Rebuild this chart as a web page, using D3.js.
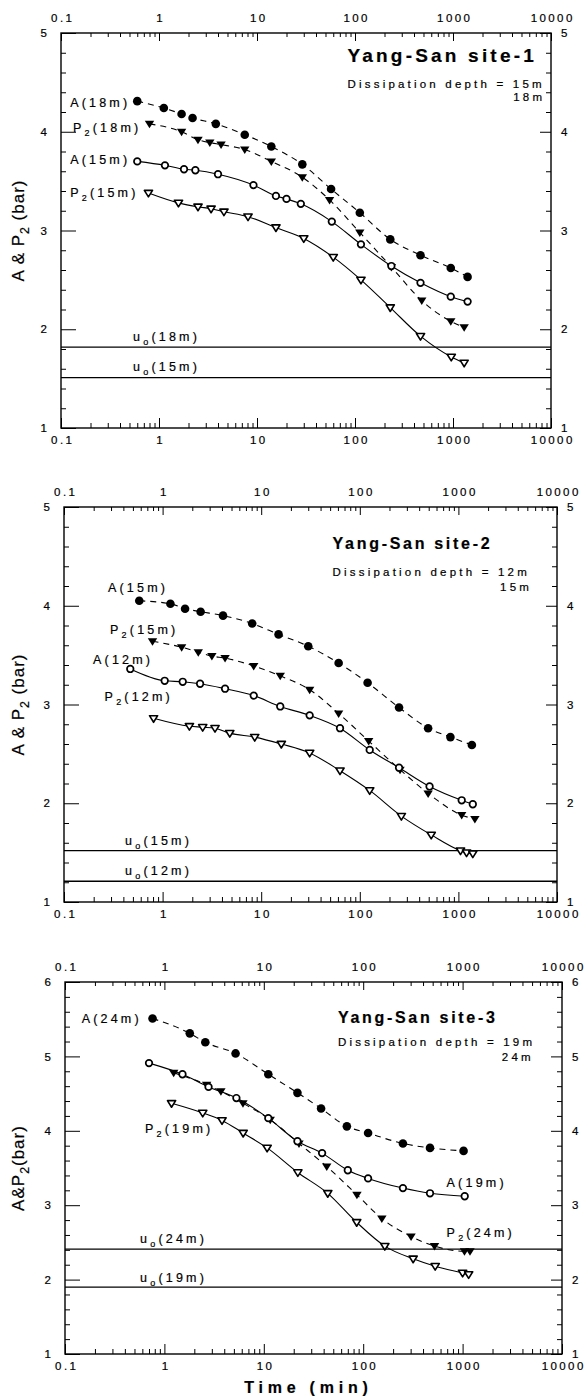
<!DOCTYPE html>
<html>
<head>
<meta charset="utf-8">
<script src="https://cdn.jsdelivr.net/npm/d3@7"></script>
<style>
  body { margin: 0; background: #fff; }
  svg { display: block; }
  text { font-family: "Liberation Sans", Arial, Helvetica, sans-serif; fill: #000; stroke: #000; stroke-width: 0.2px; }
</style>
</head>
<body>
<svg id="chart" width="586" height="1397"></svg>
<script>
// ---------- data (time in min, pressure in bar) ----------
const decadeTicks = [0.1, 1, 10, 100, 1000, 10000];

// Yang-San site-1
const s1A18Time = [0.6, 1.12, 1.7, 2.2, 3.8, 7.5, 14, 29, 57, 112, 229, 466, 949, 1409];
const s1A18Val  = [4.31, 4.24, 4.18, 4.14, 4.08, 3.97, 3.85, 3.67, 3.42, 3.18, 2.91, 2.75, 2.62, 2.53];
const s1P18Time = [0.8, 1.7, 2.5, 3.3, 4.3, 7.5, 14, 29, 55, 112, 235, 480, 949, 1300];
const s1P18Val  = [4.08, 4.00, 3.92, 3.89, 3.87, 3.82, 3.70, 3.54, 3.31, 2.98, 2.63, 2.29, 2.08, 2.02];
const s1A15Time = [0.6, 1.15, 1.8, 2.35, 4, 9.2, 15.6, 20, 28, 58, 115, 235, 466, 949, 1409];
const s1A15Val  = [3.70, 3.66, 3.62, 3.61, 3.57, 3.46, 3.35, 3.32, 3.27, 3.09, 2.86, 2.64, 2.47, 2.33, 2.28];
const s1P15Time = [0.78, 1.58, 2.5, 3.4, 4.6, 8.1, 15.6, 30, 60, 115, 229, 466, 960, 1300];
const s1P15Val  = [3.38, 3.28, 3.24, 3.22, 3.19, 3.14, 3.03, 2.92, 2.73, 2.50, 2.22, 1.93, 1.72, 1.66];
const s1Uo      = [1.82, 1.51];           // u0(18m), u0(15m)

// Yang-San site-2
const s2A15Time = [0.58, 1.2, 1.69, 2.43, 4.1, 8.1, 15, 30, 61, 120, 250, 493, 830, 1370];
const s2A15Val  = [4.05, 4.02, 3.97, 3.94, 3.90, 3.82, 3.71, 3.59, 3.42, 3.22, 2.97, 2.76, 2.67, 2.59];
const s2P15Time = [0.79, 1.56, 2.3, 3.16, 4.3, 8.4, 15.6, 31, 61, 123, 256, 493, 1080, 1470];
const s2P15Val  = [3.64, 3.58, 3.53, 3.49, 3.47, 3.39, 3.29, 3.15, 2.91, 2.63, 2.34, 2.10, 1.88, 1.84];
const s2A12Time = [0.47, 1.05, 1.6, 2.4, 4.3, 8.4, 15.6, 31, 63, 126, 250, 510, 1080, 1400];
const s2A12Val  = [3.36, 3.24, 3.23, 3.21, 3.16, 3.09, 2.98, 2.89, 2.76, 2.54, 2.36, 2.17, 2.03, 1.99];
const s2P12Time = [0.81, 1.87, 2.55, 3.4, 4.8, 8.6, 16, 31, 63, 126, 264, 530, 1050, 1210, 1400];
const s2P12Val  = [2.86, 2.78, 2.77, 2.76, 2.71, 2.67, 2.60, 2.51, 2.33, 2.13, 1.87, 1.68, 1.52, 1.50, 1.49];
const s2Uo      = [1.52, 1.21];           // u0(15m), u0(12m)

// Yang-San site-3
const s3A24Time = [0.76, 1.8, 2.58, 5.2, 11.1, 21.8, 37.7, 68.5, 112, 251, 470, 1023];
const s3A24Val  = [5.51, 5.31, 5.19, 5.04, 4.76, 4.51, 4.30, 4.06, 3.97, 3.83, 3.77, 3.73];
const s3A19Time = [0.70, 1.52, 2.78, 5.3, 11.1, 21.8, 38.6, 70, 112, 251, 470, 1050];
const s3A19Val  = [4.91, 4.76, 4.59, 4.44, 4.17, 3.86, 3.70, 3.47, 3.36, 3.23, 3.16, 3.12];
const s3P24Time = [1.24, 2.66, 3.7, 6.17, 11.6, 22.6, 43, 86.5, 154, 303, 522, 1045, 1187];
const s3P24Val  = [4.78, 4.62, 4.53, 4.37, 4.15, 3.83, 3.52, 3.14, 2.82, 2.58, 2.45, 2.38, 2.38];
const s3P19Time = [1.18, 2.43, 3.8, 6.2, 10.8, 22, 44, 86, 165, 318, 530, 1000, 1150];
const s3P19Val  = [4.37, 4.24, 4.14, 3.97, 3.77, 3.44, 3.16, 2.77, 2.45, 2.28, 2.18, 2.09, 2.07];
const s3Uo      = [2.41, 1.90];           // u0(24m), u0(19m)

// ---------- panels ----------
const panels = [
  {
    box: { L: 61, R: 551, T: 33, B: 428 }, yMax: 5, titleSize: 19,
    series: [
      { t: s1A18Time, v: s1A18Val, filled: true,  shape: 'circle' },
      { t: s1P18Time, v: s1P18Val, filled: true,  shape: 'tri' },
      { t: s1A15Time, v: s1A15Val, filled: false, shape: 'circle' },
      { t: s1P15Time, v: s1P15Val, filled: false, shape: 'tri' }
    ],
    uo: s1Uo,
    ylabel: 'A & P_2 (bar)',
    // annotation anchors in data units [time, bar]
    notes: [
      { s: 'Yang-San site-1', at: [83.8, 4.706], k: 'title' },
      { s: 'Dissipation depth = 15m', at: [83.8, 4.438], k: 'small' },
      { s: '18m', at: [8090, 4.311], k: 'small', anchor: 'end' },
      { s: 'A(18m)', at: [0.124, 4.246], k: 'lab' },
      { s: 'P_2(18m)', at: [0.1325, 4.0], k: 'lab' },
      { s: 'A(15m)', at: [0.124, 3.673], k: 'lab' },
      { s: 'P_2(15m)', at: [0.124, 3.339], k: 'lab' },
      { s: 'u_o(18m)', at: [0.543, 1.881], k: 'lab' },
      { s: 'u_o(15m)', at: [0.543, 1.577], k: 'lab' }
    ]
  },
  {
    box: { L: 64, R: 557, T: 507, B: 902 }, yMax: 5, titleSize: 16,
    series: [
      { t: s2A15Time, v: s2A15Val, filled: true,  shape: 'circle' },
      { t: s2P15Time, v: s2P15Val, filled: true,  shape: 'tri' },
      { t: s2A12Time, v: s2A12Val, filled: false, shape: 'circle' },
      { t: s2P12Time, v: s2P12Val, filled: false, shape: 'tri' }
    ],
    uo: s2Uo,
    ylabel: 'A & P_2 (bar)',
    notes: [
      { s: 'Yang-San site-2', at: [53, 4.575], k: 'title' },
      { s: 'Dissipation depth = 12m', at: [53, 4.301], k: 'small' },
      { s: '15m', at: [5180, 4.149], k: 'small', anchor: 'end' },
      { s: 'A(15m)', at: [0.279, 4.139], k: 'lab' },
      { s: 'P_2(15m)', at: [0.293, 3.714], k: 'lab' },
      { s: 'A(12m)', at: [0.197, 3.41], k: 'lab' },
      { s: 'P_2(12m)', at: [0.258, 3.035], k: 'lab' },
      { s: 'u_o(15m)', at: [0.416, 1.577], k: 'lab' },
      { s: 'u_o(12m)', at: [0.416, 1.273], k: 'lab' }
    ]
  },
  {
    box: { L: 65, R: 562, T: 982, B: 1354 }, yMax: 6, titleSize: 16,
    series: [
      { t: s3A24Time, v: s3A24Val, filled: true,  shape: 'circle' },
      { t: s3P24Time, v: s3P24Val, filled: true,  shape: 'tri' },
      { t: s3A19Time, v: s3A19Val, filled: false, shape: 'circle' },
      { t: s3P19Time, v: s3P19Val, filled: false, shape: 'tri' }
    ],
    uo: s3Uo,
    ylabel: 'A&P_2(bar)',
    xlabel: 'Time (min)',
    notes: [
      { s: 'Yang-San site-3', at: [55.7, 5.449], k: 'title' },
      { s: 'Dissipation depth = 19m', at: [55.7, 5.14], k: 'small' },
      { s: '24m', at: [4830, 4.938], k: 'small', anchor: 'end' },
      { s: 'A(24m)', at: [0.147, 5.449], k: 'lab' },
      { s: 'P_2(19m)', at: [0.638, 3.97], k: 'lab' },
      { s: 'A(19m)', at: [690, 3.245], k: 'lab' },
      { s: 'P_2(24m)', at: [690, 2.573], k: 'lab' },
      { s: 'u_o(24m)', at: [0.569, 2.492], k: 'lab' },
      { s: 'u_o(19m)', at: [0.569, 1.968], k: 'lab' }
    ]
  }
];

const textStyles = {
  title: { size: 16, weight: 'bold', ls: 2.7 },
  small: { size: 11.5, ls: 3.2 },
  lab:   { size: 12.5, ls: 3.2 },
  tick:  { size: 11.5, ls: 2.4 },
  ylab:  { size: 17, ls: 1 },
  xlab:  { size: 16, weight: 'bold', ls: 4.8 }
};

const svg = d3.select('#chart');

// text with "_x" meaning subscript x
function addText(g, x, y, str, st, anchor, rotate) {
  anchor = anchor || 'start';
  const ls = st.ls || 0;
  // chrome puts letter-spacing after the last glyph too
  let xx = x;
  if (anchor === 'end') xx += ls;
  if (anchor === 'middle') xx += ls / 2;
  const t = g.append('text')
    .attr('x', rotate ? x : xx).attr('y', y)
    .attr('font-size', st.size)
    .attr('font-weight', st.weight || 'normal')
    .attr('text-anchor', anchor)
    .style('letter-spacing', ls + 'px');
  if (rotate) t.attr('transform', `rotate(-90,${x},${y})`);
  let shift = 0;
  str.split(/(_.)/).filter(s => s).forEach(part => {
    if (part[0] === '_') {
      t.append('tspan').attr('font-size', st.size * 0.72).attr('dy', st.size * 0.3 + shift).text(part[1]);
      shift = -st.size * 0.3;
    } else {
      t.append('tspan').attr('dy', shift).text(part);
      shift = 0;
    }
  });
  return t;
}

const fmtX = d => (d < 1 ? '0.1' : String(d));

const minorX = [];
for (let e = -1; e < 4; e++) for (let m = 2; m <= 9; m++) minorX.push(+(m * Math.pow(10, e)).toPrecision(3));

function triPath(w, h) {
  return `M${-w},${-h * 0.4}L${w},${-h * 0.4}L0,${h * 0.6}Z`;
}

panels.forEach(p => {
  const b = p.box;
  const x = d3.scaleLog().domain([0.1, 10000]).range([b.L, b.R]);
  const y = d3.scaleLinear().domain([1, p.yMax]).range([b.B, b.T]);
  const g = svg.append('g');

  const majorY = d3.range(1, p.yMax + 1);
  const minorY = [];
  for (let i = 1; i < (p.yMax - 1) * 5; i++) if (i % 5) minorY.push(1 + i * 0.2);

  const ax = (gen, tx, ty) => g.append('g').attr('transform', `translate(${tx},${ty})`).call(gen);

  // x axes (top and bottom), ticks pointing inward
  ax(d3.axisTop(x).tickValues(minorX).tickSize(-4).tickFormat(''), 0, b.T);
  ax(d3.axisTop(x).tickValues(decadeTicks).tickSize(-8).tickPadding(11).tickFormat(fmtX), 0, b.T)
    .attr('class', 'logaxis');
  ax(d3.axisBottom(x).tickValues(minorX).tickSize(-5).tickFormat(''), 0, b.B);
  ax(d3.axisBottom(x).tickValues(decadeTicks).tickSize(-10).tickPadding(8).tickFormat(fmtX), 0, b.B)
    .attr('class', 'logaxis');
  // y axes
  ax(d3.axisLeft(y).tickValues(minorY).tickSize(-5).tickFormat(''), b.L, 0);
  ax(d3.axisLeft(y).tickValues(majorY).tickSize(-15).tickPadding(14).tickFormat(d3.format('d')), b.L, 0);
  ax(d3.axisRight(y).tickValues(minorY).tickSize(-5).tickFormat(''), b.R, 0);
  ax(d3.axisRight(y).tickValues(majorY).tickSize(-11).tickPadding(10).tickFormat(d3.format('d')), b.R, 0);

  g.selectAll('.domain').remove();
  g.selectAll('.tick line').attr('stroke', '#000').attr('stroke-width', 1);
  g.selectAll('.tick text')
    .attr('font-family', '"Liberation Sans", Arial, sans-serif')
    .attr('font-size', textStyles.tick.size)
    .attr('fill', '#000');
  g.selectAll('.logaxis .tick text')
    .style('letter-spacing', textStyles.tick.ls + 'px')
    .attr('dx', textStyles.tick.ls / 2);

  // frame
  g.append('rect').attr('x', b.L).attr('y', b.T).attr('width', b.R - b.L).attr('height', b.B - b.T)
    .attr('fill', 'none').attr('stroke', '#000').attr('stroke-width', 1.4);

  // u0 lines
  g.selectAll('line.uo').data(p.uo).enter().append('line').attr('class', 'uo')
    .attr('x1', b.L).attr('x2', b.R)
    .attr('y1', d => y(d)).attr('y2', d => y(d))
    .attr('stroke', '#000').attr('stroke-width', 1.3);

  // curves
  const line = d3.line().x(d => x(d[0])).y(d => y(d[1])).curve(d3.curveMonotoneX);
  p.series.forEach(s => {
    const pts = s.t.map((t, i) => [t, s.v[i]]);
    g.append('path').datum(pts).attr('d', line)
      .attr('fill', 'none').attr('stroke', '#000').attr('stroke-width', 1.1)
      .attr('stroke-dasharray', s.filled ? '6,5' : null);
  });
  p.series.forEach(s => {
    const pts = s.t.map((t, i) => [t, s.v[i]]);
    const m = g.selectAll(null).data(pts).enter();
    if (s.shape === 'circle') {
      m.append('circle').attr('cx', d => x(d[0])).attr('cy', d => y(d[1]))
        .attr('r', s.filled ? 4.3 : 3.3)
        .attr('fill', s.filled ? '#000' : '#fff').attr('stroke', '#000')
        .attr('stroke-width', s.filled ? 0 : 1.7);
    } else {
      m.append('path').attr('transform', d => `translate(${x(d[0])},${y(d[1])})`)
        .attr('d', s.filled ? triPath(4.7, 7.5) : triPath(4.1, 6.6))
        .attr('fill', s.filled ? '#000' : '#fff').attr('stroke', '#000')
        .attr('stroke-width', s.filled ? 0 : 1.6).attr('stroke-linejoin', 'round');
    }
  });

  // annotations
  p.notes.forEach(n => {
    let st = textStyles[n.k];
    if (n.k === 'title') st = Object.assign({}, st, { size: p.titleSize, ls: p.titleSize > 17 ? 3.2 : 2.7 });
    addText(g, x(n.at[0]), y(n.at[1]), n.s, st, n.anchor);
  });

  // axis titles
  addText(g, 24, (b.T + b.B) / 2, p.ylabel, textStyles.ylab, 'middle', true);
  if (p.xlabel) addText(g, x(26.6), b.B + 39, p.xlabel, textStyles.xlab, 'middle');
});
</script>
</body>
</html>
